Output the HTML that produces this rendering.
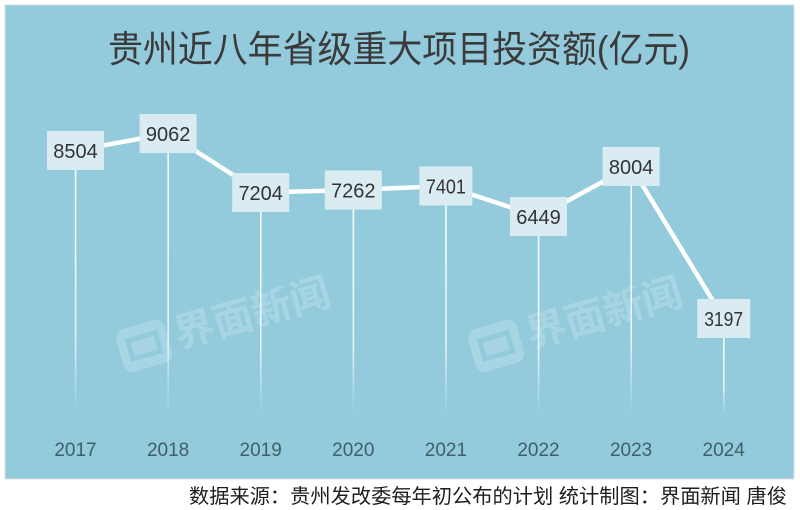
<!DOCTYPE html>
<html>
<head>
<meta charset="utf-8">
<style>
html,body{margin:0;padding:0;background:#fff;}
body{width:800px;height:510px;overflow:hidden;}
svg{display:block;}
</style>
</head>
<body>
<svg width="800" height="510" viewBox="0 0 800 510" xmlns="http://www.w3.org/2000/svg">
  <defs>
    <linearGradient id="fade" x1="0" y1="0" x2="0" y2="1">
      <stop offset="0" stop-color="#ffffff" stop-opacity="0.95"/>
      <stop offset="0.7" stop-color="#ffffff" stop-opacity="0.75"/>
      <stop offset="1" stop-color="#ffffff" stop-opacity="0"/>
    </linearGradient>
  </defs>
  <rect x="0" y="0" width="800" height="510" fill="#ffffff"/>
  <rect x="5" y="5" width="789" height="474" fill="#93cbdc" stroke="#d6dde0" stroke-width="1"/>

  <!-- Title -->
  <text x="108" y="62" textLength="582" lengthAdjust="spacingAndGlyphs" font-family="'Liberation Sans','Noto Sans CJK SC',sans-serif" font-size="37" fill="#3a3a3a">贵州近八年省级重大项目投资额(亿元)</text>

  <!-- Watermarks -->
  <g opacity="0.2" fill="#ffffff">
    <g transform="rotate(-16 215 310)">
      <rect x="112" y="303" width="50" height="44" rx="9" fill="#ffffff"/>
      <rect x="120" y="313" width="34" height="24" fill="#93cbdc"/>
      <rect x="125" y="318" width="24" height="14" fill="#ffffff"/>
      <text x="170" y="337" font-family="'Noto Sans CJK SC',sans-serif" font-weight="bold" font-size="40">界面新闻</text>
    </g>
    <g transform="rotate(-16 567 310)">
      <rect x="464" y="303" width="50" height="44" rx="9" fill="#ffffff"/>
      <rect x="472" y="313" width="34" height="24" fill="#93cbdc"/>
      <rect x="477" y="318" width="24" height="14" fill="#ffffff"/>
      <text x="522" y="337" font-family="'Noto Sans CJK SC',sans-serif" font-weight="bold" font-size="40">界面新闻</text>
    </g>
  </g>

  <!-- vertical drop lines -->
  <g fill="url(#fade)">
    <rect x="74.8" y="150" width="1.6" height="266"/>
    <rect x="167.4" y="133" width="1.6" height="283"/>
    <rect x="260" y="192" width="1.6" height="224"/>
    <rect x="352.6" y="190" width="1.6" height="226"/>
    <rect x="445.2" y="186" width="1.6" height="230"/>
    <rect x="537.8" y="216" width="1.6" height="200"/>
    <rect x="630.4" y="166" width="1.6" height="250"/>
    <rect x="723" y="318" width="1.6" height="98"/>
  </g>

  <!-- connecting line -->
  <polyline points="75.5,150.5 168.1,133.5 260.7,192.5 353.3,190 445.9,186 538.5,216.5 631.1,166.5 723.7,318.5"
    fill="none" stroke="#ffffff" stroke-width="4.5" stroke-linejoin="round"/>

  <!-- value boxes -->
  <g fill="#daecf2">
    <rect x="47" y="131" width="57" height="39"/>
    <rect x="139.6" y="114" width="57" height="39"/>
    <rect x="232.2" y="173" width="57" height="39"/>
    <rect x="324.8" y="170.5" width="57" height="39"/>
    <rect x="419.4" y="166.5" width="53" height="39"/>
    <rect x="510" y="197" width="57" height="39"/>
    <rect x="602.6" y="147" width="57" height="39"/>
    <rect x="697.2" y="299" width="53" height="39"/>
  </g>
  <g font-family="'Liberation Sans',sans-serif" font-size="20" fill="#333333" text-anchor="middle">
    <text x="75.5" y="158">8504</text>
    <text x="168.1" y="141">9062</text>
    <text x="260.7" y="200">7204</text>
    <text x="353.3" y="197.5">7262</text>
    <text x="445.9" y="193.5" textLength="40" lengthAdjust="spacingAndGlyphs">7401</text>
    <text x="538.5" y="224">6449</text>
    <text x="631.1" y="174">8004</text>
    <text x="723.7" y="326" textLength="39" lengthAdjust="spacingAndGlyphs">3197</text>
  </g>

  <!-- year labels -->
  <g font-family="'Liberation Sans',sans-serif" font-size="19" fill="#3f5f6a" text-anchor="middle">
    <text x="75.5" y="456">2017</text>
    <text x="168.1" y="456">2018</text>
    <text x="260.7" y="456">2019</text>
    <text x="353.3" y="456">2020</text>
    <text x="445.9" y="456">2021</text>
    <text x="538.5" y="456">2022</text>
    <text x="631.1" y="456">2023</text>
    <text x="723.7" y="456">2024</text>
  </g>

  <!-- footer -->
  <text x="189" y="503" textLength="598" lengthAdjust="spacingAndGlyphs" font-family="'Liberation Sans','Noto Sans CJK SC',sans-serif" font-size="20" fill="#1e1e1e">数据来源：贵州发改委每年初公布的计划  统计制图：界面新闻 唐俊</text>
</svg>
</body>
</html>
